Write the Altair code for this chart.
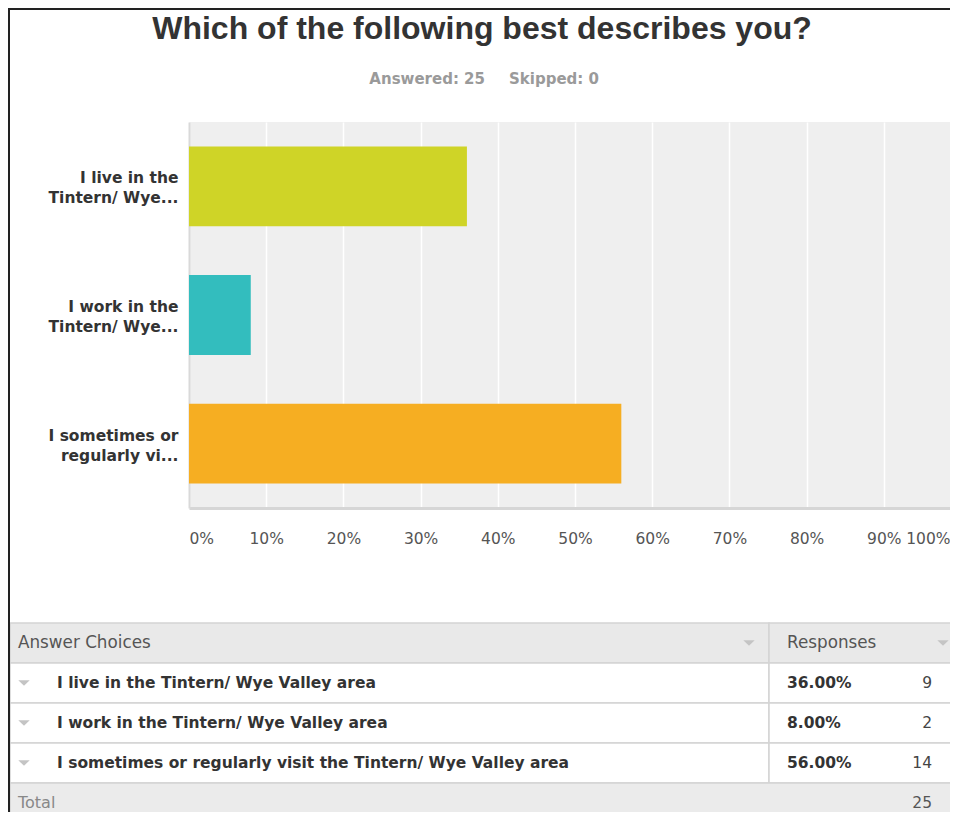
import json
import altair as alt
import pandas as pd

# ---------------- data ----------------
title_text = "Which of the following best describes you?"
answered = 25
skipped = 0
answers = [
    "I live in the Tintern/ Wye Valley area",
    "I work in the Tintern/ Wye Valley area",
    "I sometimes or regularly visit the Tintern/ Wye Valley area",
]
short_labels = [
    ["I live in the", "Tintern/ Wye..."],
    ["I work in the", "Tintern/ Wye..."],
    ["I sometimes or", "regularly vi..."],
]
shares = [0.36, 0.08, 0.56]
counts = [9, 2, 14]
bar_colors = ["#cfd427", "#33bdbe", "#f6ae22"]
x_ticks = [0, 0.1, 0.2, 0.3, 0.4, 0.5, 0.6, 0.7, 0.8, 0.9, 1.0]
header_labels = ["Answer Choices", "Responses"]
total_label = "Total"

# ---------------- layout constants ----------------
W, H = 772, 386
PAD = {"left": 181, "top": 114, "right": -11, "bottom": 304}
BOTTOM = H + PAD["bottom"]          # svg bottom, relative to plot origin
FONT = "DejaVu Sans"

bars_df = pd.DataFrame({"answer": answers, "share": shares})

label_expr = "datum.label"
for a, lines in reversed(list(zip(answers, short_labels))):
    label_expr = f"datum.value === {json.dumps(a)} ? {json.dumps(lines)} : ({label_expr})"

bars = alt.Chart(bars_df).mark_bar().encode(
    x=alt.X(
        "share:Q",
        scale=alt.Scale(domain=[0, 1], nice=False, zero=True),
        axis=alt.Axis(
            values=x_ticks, format=".0%", labelFlush=True, grid=True,
            gridColor="white", gridWidth=1.5, ticks=False,
            domainColor="#d6d6d6", domainWidth=3, labelPadding=23,
            labelOffset={"condition": {"test": "datum.value >= 1", "value": -11}, "value": 0},
            labelFont=FONT, labelFontSize=15.5, labelColor="#555555",
            title=None,
        ),
    ),
    y=alt.Y(
        "answer:N", sort=answers,
        scale=alt.Scale(paddingInner=0.38, paddingOuter=0.19),
        axis=alt.Axis(
            labelExpr=label_expr, labelFont=FONT, labelFontSize=15.5,
            labelFontWeight="bold", labelColor="#333333", labelPadding=11,
            labelLineHeight=20, labelLimit=300, labelOffset=-8,
            ticks=False, grid=False,
            domainColor="#d9d9d9", domainWidth=2, title=None,
        ),
    ),
    color=alt.Color("answer:N", scale=alt.Scale(domain=answers, range=bar_colors), legend=None),
)

# ---------------- title / subtitle ----------------
one = pd.DataFrame({"k": [0]})
title = alt.Chart(pd.DataFrame({"t": [title_text]})).mark_text(
    font="Liberation Sans", fontSize=32, fontWeight="bold", color="#333333",
    align="center", baseline="alphabetic",
).encode(x=alt.value(293), y=alt.value(-83), text="t:N")

sub_a = alt.Chart(pd.DataFrame({"t": [f"Answered: {answered}"]})).mark_text(
    font=FONT, fontSize=15, fontWeight="bold", color="#9a9a9a",
    align="right", baseline="alphabetic",
).encode(x=alt.value(296), y=alt.value(-38), text="t:N")

sub_b = alt.Chart(pd.DataFrame({"t": [f"Skipped: {skipped}"]})).mark_text(
    font=FONT, fontSize=15, fontWeight="bold", color="#9a9a9a",
    align="left", baseline="alphabetic",
).encode(x=alt.value(320), y=alt.value(-38), text="t:N")

# ---------------- table ----------------
row_keys = ["head"] + answers + ["total"]


def ty():
    return alt.Y(
        "row:N", sort=row_keys,
        scale=alt.Scale(domain=row_keys, range=[501, 701], paddingInner=0, paddingOuter=0),
        axis=None,
    )


cells_df = pd.DataFrame({
    "row": ["head"] + answers,
    "fill": ["#e9e9e9"] + ["#ffffff"] * len(answers),
})
cell_choice = alt.Chart(cells_df).mark_rect(stroke="#d4d4d4", strokeWidth=1.5).encode(
    y=ty(), x=alt.value(-179), x2=alt.value(580), fill=alt.Fill("fill:N", scale=None)
)
cell_resp = alt.Chart(cells_df).mark_rect(stroke="#d4d4d4", strokeWidth=1.5).encode(
    y=ty(), x=alt.value(580), x2=alt.value(780), fill=alt.Fill("fill:N", scale=None)
)
cell_total = alt.Chart(pd.DataFrame({"row": ["total"]})).mark_rect(
    fill="#ebebeb", stroke="#d4d4d4", strokeWidth=1.5
).encode(y=ty(), x=alt.value(-179), x2=alt.value(780))

head_df = pd.DataFrame({"row": ["head"], "a": [header_labels[0]], "b": [header_labels[1]]})
head_a = alt.Chart(head_df).mark_text(
    font=FONT, fontSize=16.8, color="#555555", align="left", baseline="middle"
).encode(y=ty(), x=alt.value(-171), text="a:N")
head_b = alt.Chart(head_df).mark_text(
    font=FONT, fontSize=16.8, color="#555555", align="left", baseline="middle"
).encode(y=ty(), x=alt.value(598), text="b:N")

tri_path = "M-1,-0.5L1,-0.5L0,0.5Z"
tri_rows = alt.Chart(pd.DataFrame({"row": answers})).mark_point(
    shape=tri_path, filled=True, color="#c4c4c4", size=130, opacity=1
).encode(y=ty(), x=alt.value(-165))
tri_head1 = alt.Chart(head_df).mark_point(
    shape=tri_path, filled=True, color="#c4c4c4", size=130, opacity=1
).encode(y=ty(), x=alt.value(560))
tri_head2 = alt.Chart(head_df).mark_point(
    shape=tri_path, filled=True, color="#c4c4c4", size=130, opacity=1
).encode(y=ty(), x=alt.value(754))

rows_df = pd.DataFrame({
    "row": answers,
    "pct": [f"{s * 100:.2f}%" for s in shares],
    "n": [str(c) for c in counts],
})
row_text = alt.Chart(rows_df).mark_text(
    font=FONT, fontSize=15.5, fontWeight="bold", color="#333333", align="left", baseline="middle"
).encode(y=ty(), x=alt.value(-132), text="row:N")
row_pct = alt.Chart(rows_df).mark_text(
    font=FONT, fontSize=15.5, fontWeight="bold", color="#333333", align="left", baseline="middle"
).encode(y=ty(), x=alt.value(598), text="pct:N")
row_n = alt.Chart(rows_df).mark_text(
    font=FONT, fontSize=15.5, color="#444444", align="right", baseline="middle"
).encode(y=ty(), x=alt.value(743), text="n:N")

total_df = pd.DataFrame({"row": ["total"], "a": [total_label], "n": [str(sum(counts))]})
total_a = alt.Chart(total_df).mark_text(
    font=FONT, fontSize=16, color="#888888", align="left", baseline="middle"
).encode(y=ty(), x=alt.value(-171), text="a:N")
total_n = alt.Chart(total_df).mark_text(
    font=FONT, fontSize=15.5, color="#555555", align="right", baseline="middle"
).encode(y=ty(), x=alt.value(743), text="n:N")

# ---------------- frame ----------------
frame_left = alt.Chart(one).mark_rule(color="#222222", strokeWidth=2).encode(
    x=alt.value(-180), y=alt.value(-114), y2=alt.value(BOTTOM)
)
frame_top = alt.Chart(one).mark_rule(color="#222222", strokeWidth=2).encode(
    x=alt.value(-181), x2=alt.value(W), y=alt.value(-113)
)

chart = alt.layer(
    bars, title, sub_a, sub_b,
    cell_choice, cell_resp, cell_total,
    head_a, head_b, tri_head1, tri_head2,
    tri_rows, row_text, row_pct, row_n,
    total_a, total_n,
    frame_left, frame_top,
).resolve_scale(y="independent").properties(
    width=W, height=H,
    autosize=alt.AutoSizeParams(type="none"),
    padding=PAD,
    background="white",
).configure_view(fill="#efefef", stroke=None)

chart.save("out.html", embed_options={"renderer": "svg", "actions": False})
